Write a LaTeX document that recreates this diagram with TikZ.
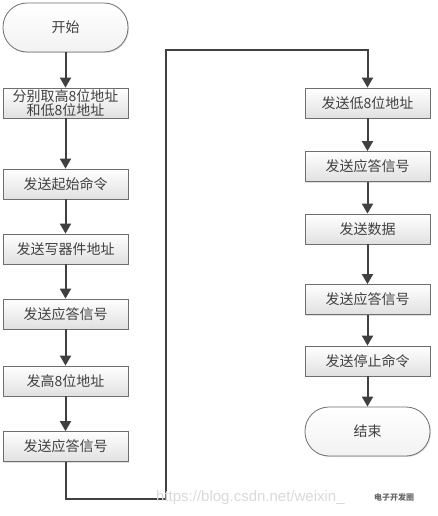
\documentclass[tikz,border=0pt]{standalone}
\usepackage{fontspec}
\newfontfamily\cjk{Noto Sans CJK SC}
\setsansfont{Liberation Sans}
\usetikzlibrary{arrows.meta,shadows}
\definecolor{linec}{HTML}{404040}
\definecolor{boxb}{HTML}{6E6E6E}
\tikzset{
  stepbox/.style={draw=boxb, line width=0.8pt, top color=white, bottom color=black!12,
    minimum width=125pt, minimum height=30pt, inner sep=1pt, align=center,
    font=\cjk\fontsize{14}{14.5}\selectfont, text=black!75,
    drop shadow={shadow xshift=1pt, shadow yshift=-1pt, opacity=0.25}},
  termbox/.style={stepbox, top color=white, bottom color=black!5, minimum height=49pt, rounded corners=24pt},
  flow/.style={draw=linec, line width=2pt, -{Triangle[width=11pt,length=10pt]}},
}
\begin{document}
\begin{tikzpicture}[x=1pt,y=-1pt]
\useasboundingbox (0,0) rectangle (437,516);
\node[termbox] (start) at (65.5,27.5) {开始};
\node[stepbox] (a1) at (65.5,103) {分别取高8位地址\\和低8位地址};
\node[stepbox] (a2) at (65.5,184) {发送起始命令};
\node[stepbox] (a3) at (65.5,249) {发送写器件地址};
\node[stepbox] (a4) at (65.5,314) {发送应答信号};
\node[stepbox] (a5) at (65.5,381) {发高8位地址};
\node[stepbox] (a6) at (65.5,446.5) {发送应答信号};

\node[stepbox] (b1) at (367.5,103) {发送低8位地址};
\node[stepbox] (b2) at (367.5,166.5) {发送应答信号};
\node[stepbox] (b3) at (367.5,229) {发送数据};
\node[stepbox] (b4) at (367.5,299.5) {发送应答信号};
\node[stepbox] (b5) at (367.5,361) {发送停止命令};
\node[termbox] (end) at (367.5,431.5) {结束};

\coordinate (c1) at (65.5,499);
\coordinate (c2) at (166,499);
\coordinate (c3) at (166,50);
\coordinate (c4) at (367.5,50);

\draw[flow] (start) -- (a1);
\draw[flow] (a1) -- (a2);
\draw[flow] (a2) -- (a3);
\draw[flow] (a3) -- (a4);
\draw[flow] (a4) -- (a5);
\draw[flow] (a5) -- (a6);
\draw[flow] (a6.south) -- (c1) -- (c2) -- (c3) -- (c4) -- (b1.north);
\draw[flow] (b1) -- (b2);
\draw[flow] (b2) -- (b3);
\draw[flow] (b3) -- (b4);
\draw[flow] (b4) -- (b5);
\draw[flow] (b5) -- (end);

\node[anchor=west, text=black!15, font=\sffamily\fontsize{15}{16}\selectfont, inner sep=0pt] (wm) at (156,498) {https://blog.csdn.net/weixin\_};
\node[anchor=west, text=black!60, font=\cjk\bfseries\fontsize{8}{9}\selectfont, inner sep=0pt] (logo) at (374,497) {电子开发圈};
\end{tikzpicture}
\end{document}
